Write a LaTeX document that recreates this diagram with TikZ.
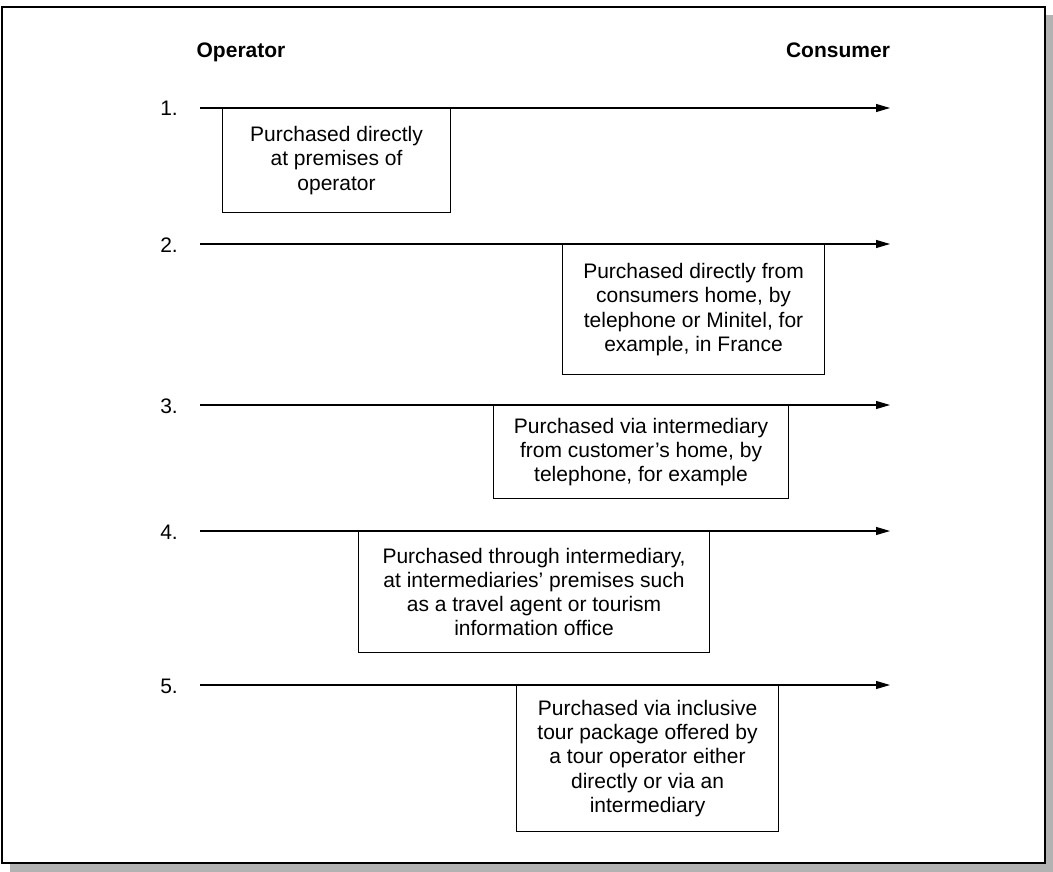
\documentclass[tikz,border=0pt]{standalone}
\usepackage{fontspec}
\setmainfont{Liberation Sans}
\usetikzlibrary{arrows.meta}
\begin{document}
\begin{tikzpicture}[x=1pt,y=-1pt,
	every node/.style={font=\fontsize{21}{24.2}\selectfont},
	channel/.style={draw, line width=1.1pt, align=center, inner sep=0pt, anchor=north west},
	flow/.style={line width=1.1pt, -{Triangle[length=14pt,width=8pt]}},
	rownum/.style={anchor=base east, inner sep=0pt},
	side/.style={anchor=base, inner sep=0pt, font=\fontsize{21}{24}\selectfont\bfseries}]
	\useasboundingbox (0,0) rectangle (1053,872);
	\fill[black!30] (10,15) rectangle (1053,872);
	\draw[fill=white, line width=1.5pt] (2,7) rectangle (1045,863);
	\node[side] (op) at (241,58) {Operator};
	\node[side] (con) at (838,58) {Consumer};
	% 1.
	\node[rownum] (n1) at (178,116) {1.};
	\coordinate (s1) at (200,108);
	\coordinate (e1) at (890,108);
	\draw[flow] (s1) -- (e1);
	\node[channel, minimum width=228pt, minimum height=104pt] (c1) at (222,108) {Purchased directly\\at premises of\\operator};
	% 2.
	\node[rownum] (n2) at (178,252) {2.};
	\coordinate (s2) at (200,244);
	\coordinate (e2) at (890,244);
	\draw[flow] (s2) -- (e2);
	\node[channel, minimum width=262pt, minimum height=130pt] (c2) at (562,244) {Purchased directly from\\consumers home, by\\telephone or Minitel, for\\example, in France};
	% 3.
	\node[rownum] (n3) at (178,413) {3.};
	\coordinate (s3) at (200,405);
	\coordinate (e3) at (890,405);
	\draw[flow] (s3) -- (e3);
	\node[channel, minimum width=295pt, minimum height=93pt] (c3) at (493,405) {Purchased via intermediary\\from customer’s home, by\\telephone, for example};
	% 4.
	\node[rownum] (n4) at (178,539) {4.};
	\coordinate (s4) at (200,531);
	\coordinate (e4) at (890,531);
	\draw[flow] (s4) -- (e4);
	\node[channel, minimum width=351pt, minimum height=121pt] (c4) at (358,531) {Purchased through intermediary,\\at intermediaries’ premises such\\as a travel agent or tourism\\information office};
	% 5.
	\node[rownum] (n5) at (178,693) {5.};
	\coordinate (s5) at (200,685);
	\coordinate (e5) at (890,685);
	\draw[flow] (s5) -- (e5);
	\node[channel, minimum width=262pt, minimum height=146pt] (c5) at (516,685) {Purchased via inclusive\\tour package offered by\\a tour operator either\\directly or via an\\intermediary};
\end{tikzpicture}
\end{document}
